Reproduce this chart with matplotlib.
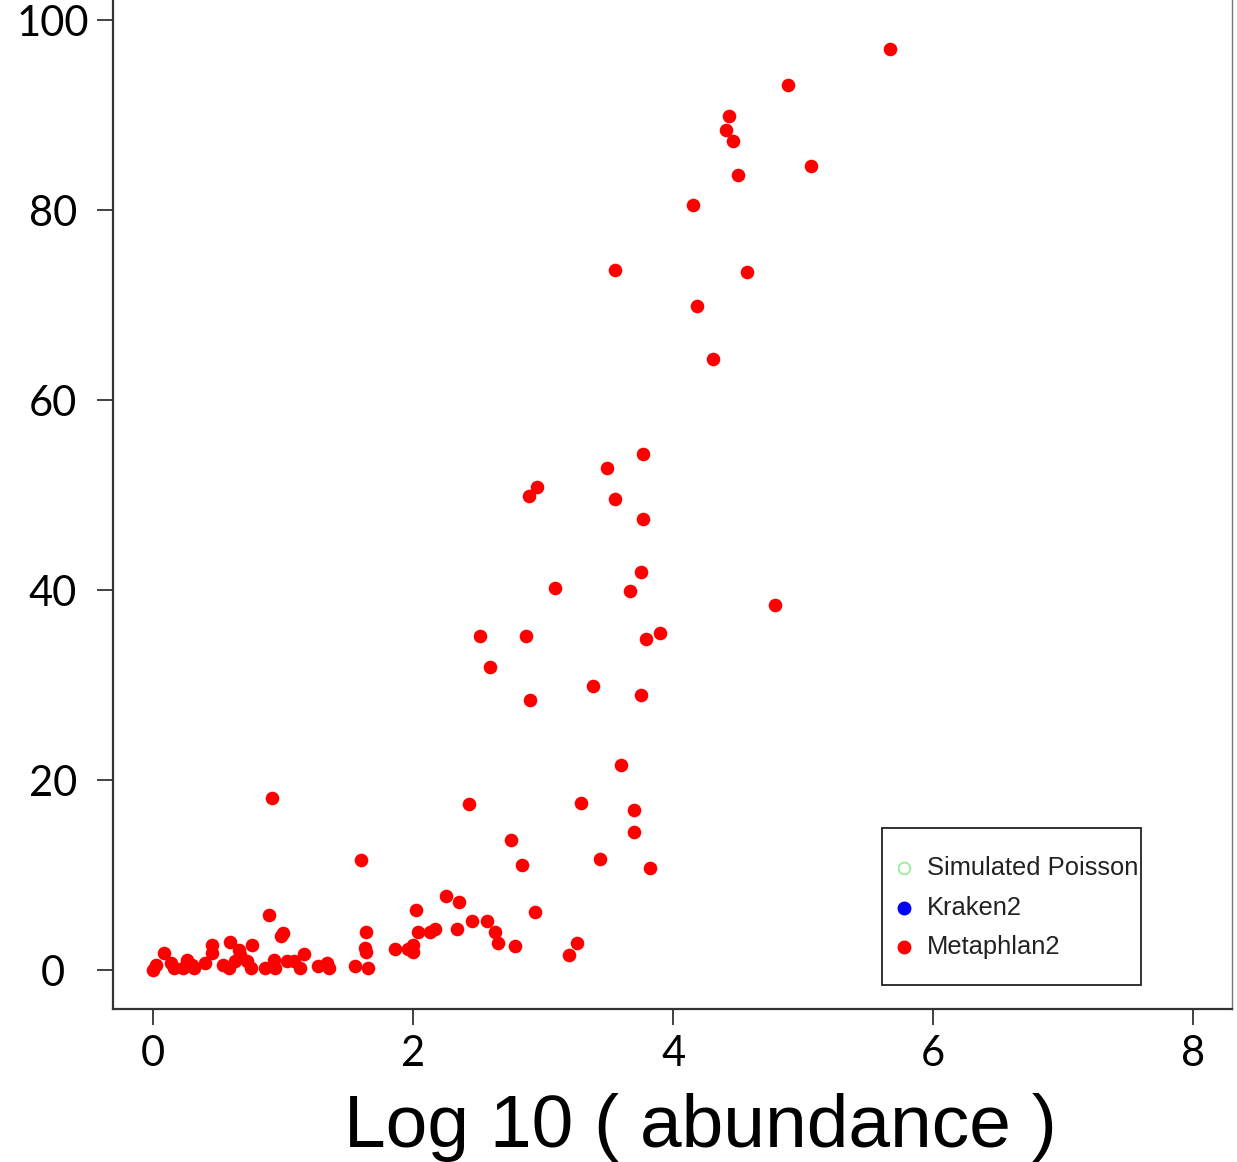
import matplotlib
matplotlib.use("Agg")
import matplotlib.pyplot as plt
import matplotlib.patches as patches

# Metaphlan2: log10(abundance) vs valor en eje y
log_abund = [
    5.67, 4.88, 4.43, 4.41, 4.46, 5.06, 4.50, 4.15, 3.55, 4.57, 4.18, 4.31,
    3.77, 3.49, 2.95, 2.89, 3.55, 3.77, 3.75, 3.67, 3.09, 4.78, 2.51, 2.87,
    3.90, 3.79, 2.59, 3.38, 3.75, 2.90, 3.60, 0.91, 2.43, 3.29, 3.70, 3.70,
    2.75, 2.84, 3.44, 1.60, 3.82,
    2.25, 2.35, 2.02, 2.94, 2.45, 2.57, 2.04, 2.13, 2.17, 2.34, 2.63, 2.65,
    2.78, 1.86, 1.96, 2.00, 2.00, 3.20, 3.26,
    0.89, 1.00, 0.98, 0.93, 0.86, 0.94, 1.03, 1.08, 1.13, 1.16, 1.27, 1.34,
    1.35, 1.64, 1.63, 1.64, 1.55, 1.65,
    0.08, 0.02, 0.00, 0.14, 0.16, 0.26, 0.30, 0.23, 0.31, 0.40, 0.45, 0.45,
    0.59, 0.54, 0.58, 0.66, 0.67, 0.63, 0.76, 0.72, 0.75,
]
valores = [
    96.9, 93.2, 89.9, 88.4, 87.3, 84.6, 83.7, 80.5, 73.7, 73.5, 69.9, 64.3,
    54.3, 52.8, 50.8, 49.9, 49.6, 47.5, 41.9, 39.9, 40.2, 38.4, 35.2, 35.2,
    35.5, 34.8, 31.9, 29.9, 28.9, 28.4, 21.6, 18.1, 17.5, 17.6, 16.8, 14.5,
    13.7, 11.1, 11.7, 11.6, 10.7,
    7.8, 7.2, 6.3, 6.1, 5.2, 5.2, 4.0, 4.0, 4.3, 4.3, 4.0, 2.8,
    2.5, 2.2, 2.2, 2.6, 1.9, 1.6, 2.8,
    5.8, 3.9, 3.6, 1.1, 0.2, 0.2, 0.9, 0.9, 0.2, 1.7, 0.4, 0.7,
    0.2, 4.0, 2.3, 1.9, 0.4, 0.2,
    1.8, 0.5, 0.0, 0.7, 0.2, 1.1, 0.5, 0.2, 0.2, 0.7, 2.6, 1.8,
    2.9, 0.5, 0.2, 2.1, 1.6, 0.9, 2.6, 0.9, 0.2,
]

x_ticks = [0, 2, 4, 6, 8]
y_ticks = [0, 20, 40, 60, 80, 100]
etiquetas_leyenda = ["Simulated Poisson", "Kraken2", "Metaphlan2"]

W, H = 1237, 1162
fig = plt.figure(figsize=(W / 100, H / 100), dpi=100)

# la parte superior del eje queda fuera de la imagen (recortada)
y_lo, y_hi = -4.1, 104
px_top = 970 - y_hi * 9.5
ax_left, ax_right, ax_bottom = 113, 1232, 1009
ax_h = ax_bottom - px_top
ax = fig.add_axes([ax_left / W, (H - ax_bottom) / H, (ax_right - ax_left) / W, ax_h / H])
ax.set_xlim(-0.31, 8.3)
ax.set_ylim(y_lo, y_hi)

ax.scatter(log_abund, valores, s=96, color="#ff0000", linewidths=0, zorder=3)

ax.set_xticks(x_ticks)
ax.set_yticks(y_ticks)
ax.set_xticklabels([str(t) for t in x_ticks], fontfamily="Lato", fontsize=30)
ax.set_yticklabels([str(t) for t in y_ticks], fontfamily="Lato", fontsize=30, ha="center")
ax.tick_params(axis="both", direction="out", length=11.5, width=1.3, color="#333333")
ax.tick_params(axis="x", pad=7)
ax.tick_params(axis="y", pad=31.7)

for lado in ["left", "bottom"]:
    ax.spines[lado].set_linewidth(1.6)
    ax.spines[lado].set_color("#333333")
ax.spines["right"].set_linewidth(1.0)
ax.spines["right"].set_color("#777777")
ax.spines["top"].set_visible(False)


# Leyenda dibujada a mano (el texto sobresale del marco como en el original)
def fx(px):
    return (px - ax_left) / (ax_right - ax_left)


def fy(py):
    return (ax_bottom - py) / ax_h


ax.add_patch(patches.Rectangle((fx(882), fy(985)), fx(1141) - fx(882), fy(828) - fy(985),
                               transform=ax.transAxes, facecolor="white",
                               edgecolor="#222222", linewidth=1.3, zorder=4))
estilos = [
    dict(markerfacecolor="none", markeredgecolor="#90ee90", markersize=8.5, markeredgewidth=1.2),
    dict(markerfacecolor="#0000ff", markeredgecolor="#0000ff", markersize=9),
    dict(markerfacecolor="#ff0000", markeredgecolor="#ff0000", markersize=9),
]
filas_py = [868, 908, 947]
for etiqueta, estilo, py in zip(etiquetas_leyenda, estilos, filas_py):
    ax.plot([fx(904)], [fy(py)], marker="o", linestyle="none",
            transform=ax.transAxes, zorder=5, clip_on=False, **estilo)
    ax.text(fx(927), fy(py), etiqueta, transform=ax.transAxes, ha="left", va="center",
            fontfamily="Liberation Sans", fontsize=18.4, color="#222222", zorder=5)

fig.text(700 / W, (H - 1147) / H, "Log 10 ( abundance )", ha="center", va="baseline",
         fontfamily="Liberation Sans", fontsize=54)

fig.savefig("out.png", dpi=100)
